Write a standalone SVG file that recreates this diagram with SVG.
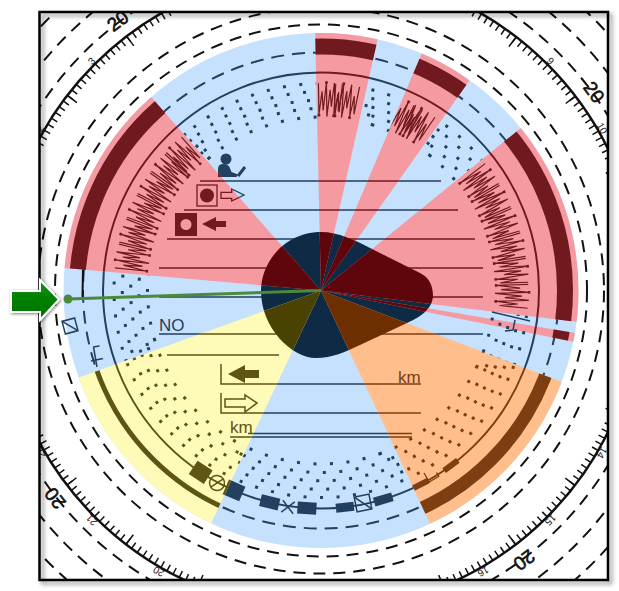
<svg xmlns="http://www.w3.org/2000/svg" width="619" height="591" viewBox="0 0 619 591">
<style>
.o{fill:none;stroke:#111;stroke-width:2;stroke-dasharray:12 8}
.l{fill:none;stroke:currentColor;stroke-width:1.5}
.f{fill:currentColor}
.d{fill:none;stroke:currentColor;stroke-width:3;stroke-dasharray:3 13.5}
.t{font-family:"Liberation Sans",Arial,sans-serif;font-size:17px;fill:currentColor}
.n{font-family:"Liberation Sans",Arial,sans-serif;font-size:19px;fill:#111;stroke:#111;stroke-width:.6;text-anchor:middle}
.s{font-family:"Liberation Sans",Arial,sans-serif;font-size:10px;fill:#111;text-anchor:middle}
.z{fill:none;stroke:#701a20;stroke-width:1.2;stroke-linejoin:miter}
.y{fill:none;stroke:#701a20;stroke-width:2.6}
</style>
<defs>
<clipPath id="fr"><rect x="40" y="13" width="568" height="567"/></clipPath>
<clipPath id="cRed">
<polygon points="321,290.5 22.2,264.3 123.4,65.3"/>
<polygon points="321,290.5 314.2,-8.9 386.9,-1.7"/>
<polygon points="321,290.5 438.2,14.8 493.9,45.9"/>
<polygon points="321,290.5 553.5,101.4 618.8,327"/>
<polygon points="321,290.5 617,340 615.1,350.3"/>
</clipPath>
<clipPath id="cY"><polygon points="321,290.5 192.8,562.2 38.6,392.1"/></clipPath>
<clipPath id="cO"><polygon points="321,290.5 601.6,397 448.3,562.7"/></clipPath>
<clipPath id="bTL"><polygon points="321,290.5 123.4,65.3 314.2,-8.9"/></clipPath>
<clipPath id="bTM"><polygon points="321,290.5 386.9,-1.7 438.2,14.8"/></clipPath>
<clipPath id="bTR"><polygon points="321,290.5 493.9,45.9 553.5,101.4"/></clipPath>
<clipPath id="bR"><polygon points="321,290.5 618.8,327 601.6,397"/></clipPath>
<clipPath id="bB"><polygon points="321,290.5 448.3,562.7 192.8,562.2"/></clipPath>
<clipPath id="bL"><polygon points="321,290.5 38.6,392.1 22.2,264.3"/></clipPath>
<filter id="fs" x="-5%" y="-5%" width="110%" height="110%"><feDropShadow dx="3" dy="3" stdDeviation="2" flood-color="#000" flood-opacity=".45"/></filter>
<filter id="as" x="-30%" y="-30%" width="160%" height="160%"><feDropShadow dx="1" dy="1" stdDeviation="1.5" flood-color="#000" flood-opacity=".5"/></filter>
<linearGradient id="ag" x1="0" y1="0" x2="0" y2="1"><stop offset="0" stop-color="#0a8f0a"/><stop offset="1" stop-color="#007000"/></linearGradient>
<path id="blob" d="M321 232C285 232 261 262 261 291C261 328 292 358 316 358C332 358 345 352 360 345L407 323C420 317 432 310 433 296C433 284 428 277 420 273L372 249C355 240 338 232 321 232Z"/>
<g id="tile">
<path class="z" d="M-12 -207L-10 -176L-8 -199L-6 -180L-4 -208L-2 -174L0 -201L2 -184L4 -208L6 -176L8 -197L10 -179L12 -207"/>
<path class="y" d="M-11.3 -175h2.6M-5.3 -208h2.6M4.7 -175h2.6"/>
</g>
<g id="ink">
<circle class="l" cx="321" cy="290.5" r="238" stroke-dasharray="13 8" style="stroke-width:2"/>
<circle class="l" cx="321" cy="290.5" r="218" style="stroke-width:2"/>
<path class="l" d="M200 181H441M184 210H458M167 239H475M159 268H483M159 297H483M159 334H483M167 355H279M221 364V384H421M221 393V413H421M230 437H412M248 433.5H412"/>
<text class="t" x="159" y="331">NO</text>
<text class="t" x="230" y="433">km</text>
<text class="t" x="398" y="383">km</text>
<circle class="f" cx="226" cy="159" r="5.5"/>
<path class="f" d="M218 177V169Q218 164 223.5 164Q229 164 230 168.5L231.5 172L238 174.5L236.5 177Z"/>
<path class="l" d="M238 176L245 167" style="stroke-width:3"/>
<rect class="l" x="197" y="185" width="20" height="21" style="stroke-width:1.3"/>
<circle class="f" cx="207" cy="195.5" r="7"/>
<path class="l" d="M221 192.3H231.7V189L244 195L231.7 201V198.3H221Z" style="stroke-width:1.3"/>
<path class="f" fill-rule="evenodd" d="M175 213H197V236H175ZM191.5 224.5A5.5 5.5 0 1 0 180.5 224.5A5.5 5.5 0 1 0 191.5 224.5Z"/>
<path class="f" d="M202 224L216 217V221H226V227H216V231Z"/>
<path class="f" d="M228 374L245 365V370H259V378H245V383Z"/>
<path class="l" d="M225 399H245V395L257 403L245 412V407H225Z"/>
<g transform="translate(321 290.5)">
<rect class="f" x="-9" y="-226" width="18" height="16" transform="rotate(213.5)"/>
<rect class="f" x="-9" y="-226" width="18" height="16" transform="rotate(203.5)"/>
<rect class="f" x="-9.5" y="-224" width="19" height="12" transform="rotate(193.6)"/>
<rect class="f" x="-9.5" y="-224" width="19" height="12" transform="rotate(183.7)"/>
<rect class="f" x="-9" y="-222.5" width="18" height="9" transform="rotate(173.7)"/>
<rect class="f" x="-9.5" y="-222.5" width="19" height="9" transform="rotate(163.4)"/>
<rect class="f" x="-8.5" y="-221" width="17" height="6" transform="rotate(152.7)"/>
<rect class="f" x="-8.5" y="-221" width="17" height="6" transform="rotate(143.4)"/>
<path class="l" d="M5 -220V-209.5M5 -220H-6V-215.5" transform="rotate(149.2)" style="stroke-width:1.3"/>
</g>
<g transform="translate(217 483) rotate(-33)"><circle class="l" r="7.5"/><path class="l" d="M-7.5 0H7.5"/></g>
<path class="l" d="M-6 -6L6 6M-6 6L6 -6" transform="translate(288 507) rotate(8)"/>
<g transform="translate(363 503) rotate(-11)"><rect class="l" x="-7.5" y="-7.5" width="15" height="15"/><path class="l" d="M-7.5 -7.5L7.5 7.5"/></g>
<g transform="translate(70 326) rotate(-15)"><rect class="l" x="-6.5" y="-6.5" width="13" height="13"/><path class="l" d="M-6.5 -6.5L6.5 6.5"/></g>
<path class="l" d="M93 347L99.5 346M91 361L103 358.5M93.5 347L97 367"/>
</g>
</defs>
<rect width="619" height="591" fill="#fff"/>
<g id="scale" clip-path="url(#fr)">
<circle class="o" cx="321" cy="290.5" r="266"/>
<circle class="o" cx="321" cy="290.5" r="283"/>
<circle class="o" cx="321" cy="290.5" r="336"/>
<circle class="o" cx="321" cy="290.5" r="360"/>
<circle class="o" cx="321" cy="290.5" r="385"/>
<circle cx="321" cy="290.5" r="320" fill="none" stroke="#111" stroke-width="2.5"/>
<circle cx="321" cy="290.5" r="316.5" fill="none" stroke="#111" stroke-width="7" stroke-dasharray="1.5 5.405" stroke-dashoffset=".75"/>
<circle cx="321" cy="290.5" r="314" fill="none" stroke="#111" stroke-width="12" stroke-dasharray="1.5 80.7" stroke-dashoffset="-40.35"/>
<g transform="translate(321 290.5)">
<text class="n" y="-331" transform="rotate(-37)">20</text>
<text class="n" y="-331" transform="rotate(54)">20</text>
<text class="n" y="-331" transform="rotate(143)">20</text>
<text class="n" y="-331" transform="rotate(232)">20</text>
<text class="s" y="-321" transform="rotate(-60)">2</text>
<text class="s" y="-321" transform="rotate(-45)">3</text>
<text class="s" y="-321" transform="rotate(45)">9</text>
<text class="s" y="-321" transform="rotate(60)">10</text>
<text class="s" y="-321" transform="rotate(120)">14</text>
<text class="s" y="-321" transform="rotate(135)">15</text>
<text class="s" y="-321" transform="rotate(150)">16</text>
<text class="s" y="-321" transform="rotate(210)">20</text>
<text class="s" y="-321" transform="rotate(225)">21</text>
<text class="s" y="-321" transform="rotate(240)">22</text>
</g>
</g>
<g id="blue-sectors" style="color:#22405f">
<circle cx="321" cy="290.5" r="257.5" fill="#c5e1fd"/>
<use href="#ink"/>
<use href="#blob" fill="#0f2a44"/>
<path d="M83 268L82.5 297" stroke="#111" stroke-width="2" fill="none"/>
<g clip-path="url(#bTL)"><g transform="translate(321 290.5)">
<circle class="d" r="207" transform="rotate(232)"/><circle class="d" r="198.7" transform="rotate(231.5)"/><circle class="d" r="190.3" transform="rotate(231)"/><circle class="d" r="182" transform="rotate(230)"/><circle class="d" r="173.5" transform="rotate(229.4)"/>
</g></g>
<g clip-path="url(#bTM)"><g transform="translate(321 290.5)">
<circle class="d" r="207" transform="rotate(-75.9)"/><circle class="d" r="198.7" transform="rotate(-75.3)"/><circle class="d" r="190.3" transform="rotate(-74.6)"/><circle class="d" r="182" transform="rotate(-73.9)"/><circle class="d" r="173.5" transform="rotate(-73.1)"/>
</g></g>
<g clip-path="url(#bTR)"><g transform="translate(321 290.5)">
<circle class="d" r="207" transform="rotate(-53)"/><circle class="d" r="198.7" transform="rotate(-51.3)"/><circle class="d" r="190.3" transform="rotate(-54.4)"/><circle class="d" r="182" transform="rotate(-53)"/><circle class="d" r="173.5" transform="rotate(-51.5)"/>
</g></g>
<g clip-path="url(#bB)"><g transform="translate(321 290.5)">
<circle class="d" r="207" transform="rotate(66.6)"/><circle class="d" r="198.7" transform="rotate(68.6)"/><circle class="d" r="190.3" transform="rotate(65.7)"/><circle class="d" r="182" transform="rotate(67.7)"/><circle class="d" r="173.5" transform="rotate(69.7)"/>
</g></g>
<g clip-path="url(#bL)"><g transform="translate(321 290.5)">
<circle class="d" r="207" transform="rotate(163.4)"/><circle class="d" r="198.7" transform="rotate(164.7)"/><circle class="d" r="190.3" transform="rotate(161)"/><circle class="d" r="182" transform="rotate(162.3)"/><circle class="d" r="173.5" transform="rotate(163.2)"/>
</g></g>
</g>
<g id="red-sectors" clip-path="url(#cRed)" style="color:#701a20">
<circle cx="321" cy="290.5" r="257.5" fill="#f59aa0"/>
<use href="#ink"/>
<circle cx="321" cy="290.5" r="244" fill="none" stroke="#701a20" stroke-width="16"/>
<use href="#blob" fill="#5e060c"/>
<g transform="translate(321 290.5)">
<use href="#tile" transform="rotate(279.6)"/><use href="#tile" transform="rotate(286.8)"/><use href="#tile" transform="rotate(294)"/><use href="#tile" transform="rotate(301.2)"/><use href="#tile" transform="rotate(308.4)"/><use href="#tile" transform="rotate(314.4)"/>
<use href="#tile" transform="rotate(2.6)"/><use href="#tile" transform="rotate(7.4)"/>
<use href="#tile" transform="rotate(26)"/><use href="#tile" transform="rotate(30)"/>
<use href="#tile" transform="rotate(55.6)"/><use href="#tile" transform="rotate(62.8)"/><use href="#tile" transform="rotate(70)"/><use href="#tile" transform="rotate(77.2)"/><use href="#tile" transform="rotate(84.4)"/><use href="#tile" transform="rotate(91.6)"/>
</g>
</g>
<g id="yellow-sector" clip-path="url(#cY)" style="color:#5e5414">
<circle cx="321" cy="290.5" r="257.5" fill="#fefbb8"/>
<use href="#ink"/>
<circle cx="321" cy="290.5" r="238" fill="none" stroke="#5e5414" stroke-width="5"/>
<use href="#blob" fill="#4a4200"/>
<g transform="translate(321 290.5)">
<circle class="d" r="207" transform="rotate(117.5)"/><circle class="d" r="198.7" transform="rotate(116.7)"/><circle class="d" r="190.3" transform="rotate(114.9)"/><circle class="d" r="182" transform="rotate(117)"/><circle class="d" r="173.5" transform="rotate(114)"/>
</g>
</g>
<g id="orange-sector" clip-path="url(#cO)" style="color:#7d3f12">
<circle cx="321" cy="290.5" r="257.5" fill="#ffbe8c"/>
<use href="#ink"/>
<circle cx="321" cy="290.5" r="240" fill="none" stroke="#7d3f12" stroke-width="13"/>
<use href="#blob" fill="#6d2e00"/>
<g transform="translate(321 290.5)">
<circle class="d" r="207" transform="rotate(25)"/><circle class="d" r="198.7" transform="rotate(25.3)"/><circle class="d" r="190.3" transform="rotate(25.4)"/><circle class="d" r="182" transform="rotate(25.4)"/><circle class="d" r="173.5" transform="rotate(25.7)"/>
</g>
</g>
<g id="right-marks" style="color:#22405f">
<g clip-path="url(#bR)"><g transform="translate(321 290.5)">
<circle class="d" r="207" transform="rotate(6.8)"/><circle class="d" r="198.7" transform="rotate(6.5)"/><circle class="d" r="190.3" transform="rotate(5.8)"/><circle class="d" r="182" transform="rotate(5)"/><circle class="d" r="173.5" transform="rotate(3.55)"/>
</g></g>
<path d="M492 312L530 321M515 320L513 330L505 331" fill="none" stroke="#22405f" stroke-width="1.5"/>
</g>
<g id="connectors">
<path d="M68 299L321 290.5" stroke="#4a8a3a" stroke-width="3" fill="none"/>
<circle cx="68" cy="299" r="4.5" fill="#4a8a3a"/>
</g>
<rect id="frame" x="39.5" y="12" width="568.5" height="568" fill="none" stroke="#000" stroke-width="2.5" filter="url(#fs)"/>
<path id="pointer" d="M11 291H40V280L59 299.5L40 320V312H11Z" fill="url(#ag)" stroke="#fff" stroke-width="2" filter="url(#as)"/>
</svg>
